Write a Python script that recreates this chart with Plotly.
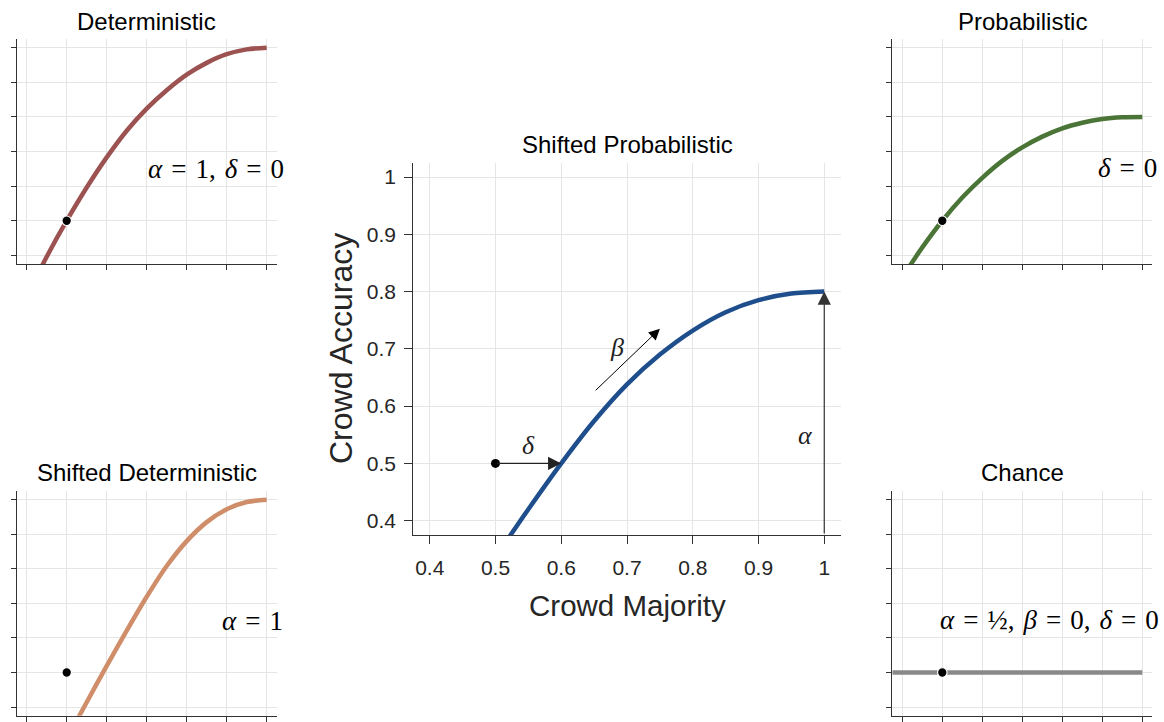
import plotly.graph_objects as go

W, H = 1164, 722

# ---------------- data ----------------
tick_vals = [0.4, 0.5, 0.6, 0.7, 0.8, 0.9, 1.0]
tick_text = ["0.4", "0.5", "0.6", "0.7", "0.8", "0.9", "1"]

main_x = [0.52, 0.55, 0.6, 0.65, 0.7, 0.75, 0.8, 0.85, 0.9, 0.95, 1.0]
main_y = [0.370, 0.420, 0.500, 0.574, 0.638, 0.690, 0.732, 0.764, 0.785, 0.7965, 0.800]

det_x = [0.43, 0.45, 0.5, 0.55, 0.6, 0.65, 0.7, 0.75, 0.8, 0.85, 0.9, 0.95, 1.0]
det_y = [0.350, 0.396, 0.500, 0.596, 0.683, 0.760, 0.824, 0.877, 0.922, 0.956, 0.981, 0.995, 1.000]

prob_x = [0.41, 0.45, 0.5, 0.55, 0.6, 0.65, 0.7, 0.75, 0.8, 0.85, 0.9, 0.95, 1.0]
prob_y = [0.354, 0.423, 0.500, 0.567, 0.624, 0.673, 0.712, 0.743, 0.767, 0.783, 0.794, 0.799, 0.800]

sdet_x = [0.52, 0.55, 0.6, 0.65, 0.7, 0.75, 0.8, 0.85, 0.9, 0.95, 1.0]
sdet_y = [0.350, 0.414, 0.519, 0.621, 0.719, 0.808, 0.880, 0.935, 0.972, 0.993, 1.000]

chance_x = [0.375, 1.0]
chance_y = [0.5, 0.5]

point_x, point_y = [0.5], [0.5]

# ---------------- layout geometry (pixels) ----------------
def xd(a, b):
    return [a / W, b / W]

def yd(top, bottom):
    return [1 - bottom / H, 1 - top / H]

panels = {
    "main": dict(x=xd(413.3, 840.7), y=yd(162.7, 535.0)),
    "det": dict(x=xd(16.7, 276.7), y=yd(39.0, 264.0)),
    "prob": dict(x=xd(892.3, 1152.3), y=yd(39.0, 264.0)),
    "sdet": dict(x=xd(16.7, 276.7), y=yd(491.0, 715.7)),
    "chance": dict(x=xd(892.3, 1152.3), y=yd(491.0, 715.7)),
}

AX = "#333333"
GRID = "#e5e5e5"
RNG = [0.375, 1.025]
SANS = "Liberation Sans, Arial, sans-serif"
SERIF = "Liberation Serif, Times New Roman, serif"


def axis(domain, anchor, main=False):
    return dict(
        domain=domain, anchor=anchor, range=RNG, showline=True, linecolor=AX,
        linewidth=1.3, ticks="outside", ticklen=8 if main else 5, tickwidth=1.2,
        tickcolor=AX, showgrid=True, gridcolor=GRID, gridwidth=1, zeroline=False,
        tickvals=tick_vals, ticktext=tick_text, showticklabels=main,
        tickfont=dict(family=SANS, size=21, color="#262626"), fixedrange=True,
    )


fig = go.Figure()

names = ["main", "det", "prob", "sdet", "chance"]
axmap = {n: (("x", "y") if i == 0 else (f"x{i+1}", f"y{i+1}")) for i, n in enumerate(names)}

layout = dict(
    width=W, height=H, margin=dict(l=0, r=0, t=0, b=0),
    paper_bgcolor="white", plot_bgcolor="white", showlegend=False,
)
for i, n in enumerate(names):
    xa, ya = axmap[n]
    xk = "xaxis" if i == 0 else f"xaxis{i+1}"
    yk = "yaxis" if i == 0 else f"yaxis{i+1}"
    layout[xk] = axis(panels[n]["x"], ya, main=(i == 0))
    layout[yk] = axis(panels[n]["y"], xa, main=(i == 0))
layout["xaxis"]["ticklabelstandoff"] = 6
layout["yaxis"]["ticklabelstandoff"] = 4
fig.update_layout(**layout)

curves = [
    ("main", main_x, main_y, "#1f4e8d"),
    ("det", det_x, det_y, "#9b5251"),
    ("prob", prob_x, prob_y, "#4b7437"),
    ("sdet", sdet_x, sdet_y, "#cf8e69"),
    ("chance", chance_x, chance_y, "#8a8888"),
]
for n, xs, ys, c in curves:
    xa, ya = axmap[n]
    fig.add_trace(go.Scatter(x=xs, y=ys, mode="lines", xaxis=xa, yaxis=ya,
                             line=dict(color=c, width=4.5, shape="spline", smoothing=0.8),
                             hoverinfo="skip"))

for n in ["det", "prob", "sdet", "chance"]:
    xa, ya = axmap[n]
    fig.add_trace(go.Scatter(x=point_x, y=point_y, mode="markers", xaxis=xa, yaxis=ya,
                             marker=dict(color="black", size=9.5, line=dict(color="white", width=1.2)),
                             hoverinfo="skip"))
fig.add_trace(go.Scatter(x=point_x, y=point_y, mode="markers", xaxis="x", yaxis="y",
                         marker=dict(color="black", size=9), hoverinfo="skip"))

ann = []
# titles
titles = [
    ("Shifted Probabilistic", 627.0, 145.0),
    ("Deterministic", 146.7, 21.0),
    ("Probabilistic", 1022.3, 21.0),
    ("Shifted Deterministic", 146.7, 472.0),
    ("Chance", 1022.3, 472.0),
]
for t, px, py in titles:
    ann.append(dict(text=t, x=px / W, y=1 - py / H, xref="paper", yref="paper",
                    xanchor="center", yanchor="middle", showarrow=False,
                    font=dict(family=SANS, size=24, color="black")))

# axis titles
ann.append(dict(text="Crowd Majority", x=627.0 / W, y=1 - 605.0 / H, xref="paper", yref="paper",
                xanchor="center", yanchor="middle", showarrow=False,
                font=dict(family=SANS, size=29.5, color="#262626")))
ann.append(dict(text="Crowd Accuracy", x=341.0 / W, y=1 - 349.0 / H, xref="paper", yref="paper",
                xanchor="center", yanchor="middle", showarrow=False, textangle=-90,
                font=dict(family=SANS, size=32, color="#262626")))

# arrows in main panel
arrows = [
    ((0.5, 0.5), (0.6, 0.5), "#222222", 1.2),
    ((0.65, 0.625), (0.75, 0.735), "#000000", 1.0),
    ((1.0, 0.375), (1.0, 0.8), "#333333", 1.2),
]
for (x0, y0), (x1, y1), c, w in arrows:
    ann.append(dict(text="", x=x1, y=y1, ax=x0, ay=y0, xref="x", yref="y", axref="x", ayref="y",
                    showarrow=True, arrowhead=2, arrowsize=2.2, arrowwidth=w, arrowcolor=c,
                    standoff=0, startstandoff=0))

greek = [("<i>δ</i>", 0.55, 0.531), ("<i>β</i>", 0.685, 0.702), ("<i>α</i>", 0.972, 0.548)]
for t, gx, gy in greek:
    ann.append(dict(text=t, x=gx, y=gy, xref="x", yref="y", xanchor="center", yanchor="middle",
                    showarrow=False, font=dict(family=SERIF, size=26, color="#222222")))

# parameter labels (pixel positions of right edge / vertical centre)
S = "\u2004"  # three-per-em space, mimics TeX relation spacing
EQ = S + "=" + S
params = [
    (f"<i>α</i>{EQ}1,{S}<i>δ</i>{EQ}0", 286.0, 169.0),
    (f"<i>δ</i>{EQ}0", 1159.0, 168.0),
    (f"<i>α</i>{EQ}1", 285.0, 621.0),
    (f"<i>α</i>{EQ}½,{S}<i>β</i>{EQ}0,{S}<i>δ</i>{EQ}0", 1161.0, 620.0),
]
for t, px, py in params:
    ann.append(dict(text=t, x=px / W, y=1 - py / H, xref="paper", yref="paper",
                    xanchor="right", yanchor="middle", showarrow=False,
                    font=dict(family=SERIF, size=27, color="black")))

fig.update_layout(annotations=ann)
fig.write_html("out.html", config={"displayModeBar": False},
               post_script="document.body.style.margin='0px';document.body.style.overflow='hidden';")
